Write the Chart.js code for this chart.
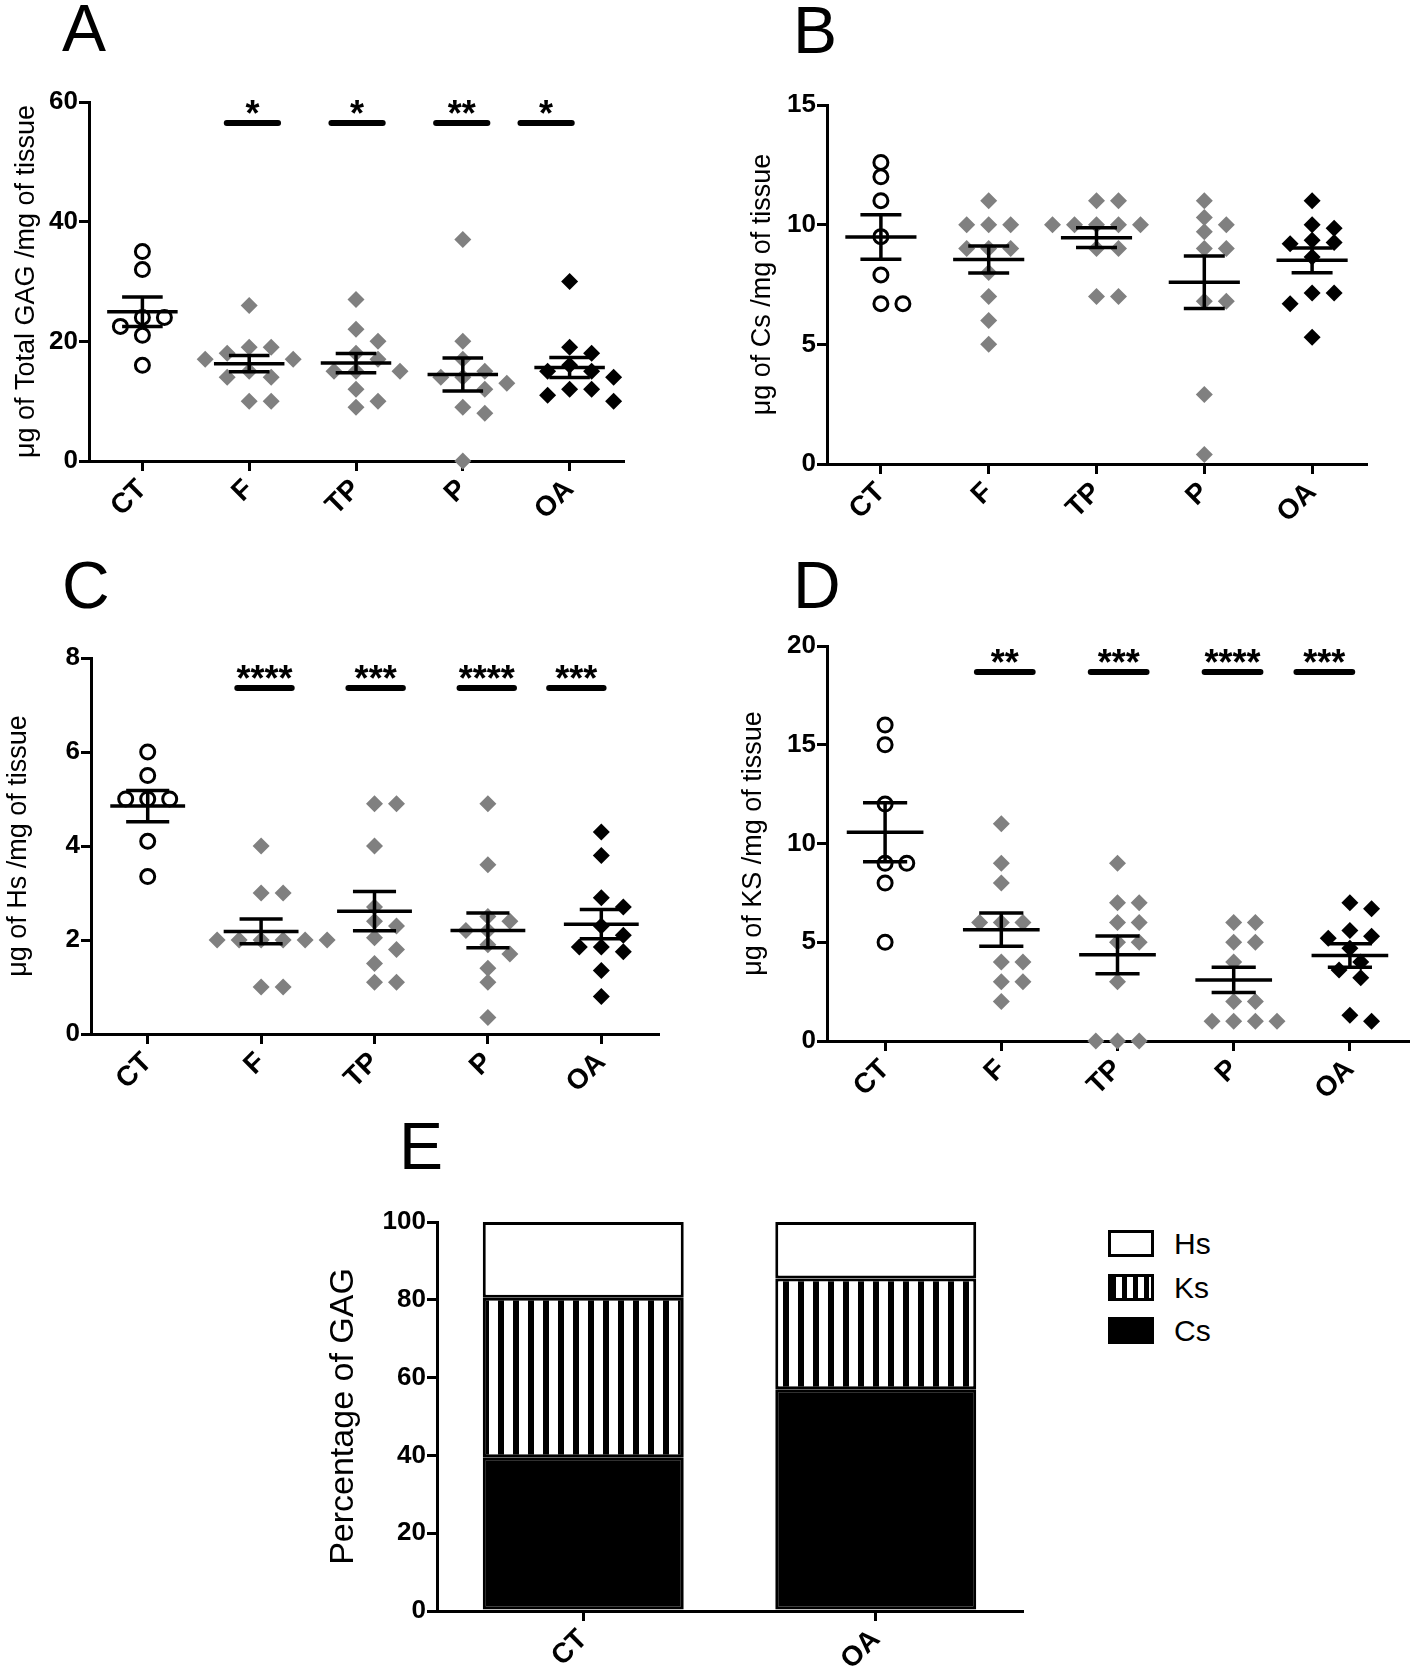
<!DOCTYPE html>
<html>
<head>
<meta charset="utf-8">
<script src="https://cdn.jsdelivr.net/npm/chart.js@4.4.1/dist/chart.umd.min.js"></script>
<style>
  html, body { margin: 0; padding: 0; background: #fff; }
  #fig { position: relative; width: 1418px; height: 1677px; overflow: hidden; font-family: 'Liberation Sans', Arial, sans-serif; color: #000; }
  canvas { position: absolute; }
  .letter { position: absolute; font-size: 66px; line-height: 1; }
  .sw { position: absolute; left: 1108px; width: 40px; height: 21px; border: 3px solid #000; background: #fff; }
  .lt { position: absolute; left: 1174px; font-size: 30px; line-height: 27px; }
</style>
</head>
<body>
<div id="fig">
  <div class="letter" style="left:62px;top:-5px">A</div>
  <div class="letter" style="left:793px;top:-3px">B</div>
  <div class="letter" style="left:62px;top:552px">C</div>
  <div class="letter" style="left:793px;top:552px">D</div>
  <div class="letter" style="left:399px;top:1113px">E</div>

  <canvas id="chartA"></canvas>
  <canvas id="chartB"></canvas>
  <canvas id="chartC"></canvas>
  <canvas id="chartD"></canvas>
  <canvas id="chartE"></canvas>

  <div class="sw" style="top:1230px"></div><div class="lt" style="top:1230px">Hs</div>
  <div class="sw" style="top:1274px;background:repeating-linear-gradient(90deg,#000 0 5px,#fff 5px 11px)"></div><div class="lt" style="top:1274px">Ks</div>
  <div class="sw" style="top:1317px;background:#000"></div><div class="lt" style="top:1317px">Cs</div>
</div>
<script>
'use strict';

const groups = ['CT', 'F', 'TP', 'P', 'OA'];

// A: total GAG (µg / mg tissue)
const gagCT = [35, 32, 24, 24, 22.5, 21, 16];
const gagF  = [26, 19, 19, 18, 17, 17, 15, 14, 14, 10, 10];
const gagTP = [27, 22, 20, 18, 17, 15, 15, 15, 12, 10, 9];
const gagP  = [37, 20, 17, 15, 14, 14, 13, 12, 9, 8, 0];
const gagOA = [30, 19, 18, 16, 15, 15, 14, 12, 12, 11, 10];
const gagStars = ['', '*', '*', '**', '*'];
const gagTicks = [0, 20, 40, 60];

// B: Cs
const csCT = [12.6, 12.0, 11.0, 9.5, 7.9, 6.7, 6.7];
const csF  = [11, 10, 10, 10, 9, 9, 9, 8, 7, 6, 5];
const csTP = [11, 11, 10, 10, 10, 10, 10, 9, 9, 7, 7];
const csP  = [11, 10.3, 10, 9.7, 9, 9, 6.8, 6.8, 2.9, 0.4];
const csOA = [11, 10, 9.85, 9.35, 9.25, 9.2, 8.65, 7.15, 7.15, 6.7, 5.3];
const csTicks = [0, 5, 10, 15];

// C: Hs
const hsCT = [6.0, 5.5, 5.0, 5.0, 5.0, 4.1, 3.35];
const hsF  = [4, 3, 3, 2, 2, 2, 2, 2, 2, 1, 1];
const hsTP = [4.9, 4.9, 4.0, 2.7, 2.4, 2.3, 2.05, 1.8, 1.5, 1.1, 1.1];
const hsP  = [4.9, 3.6, 2.5, 2.4, 2.2, 2.2, 1.9, 1.7, 1.4, 1.1, 0.35];
const hsOA = [4.3, 3.8, 2.9, 2.7, 2.3, 2.1, 1.85, 1.85, 1.75, 1.35, 0.8];
const hsStars = ['', '****', '***', '****', '***'];
const hsTicks = [0, 2, 4, 6, 8];

// D: KS
const ksCT = [16, 15, 12, 9, 9, 8, 5];
const ksF  = [11, 9, 8, 6, 6, 6, 4, 4, 3, 3, 2];
const ksTP = [9, 7, 7, 6, 6, 5, 5, 3, 0, 0, 0];
const ksP  = [6, 6, 5, 5, 4, 2, 2, 1, 1, 1, 1];
const ksOA = [7, 6.7, 5.6, 5.3, 5.2, 4.7, 4.0, 3.6, 3.2, 1.3, 1.0];
const ksStars = ['', '**', '***', '****', '***'];
const ksTicks = [0, 5, 10, 15, 20];

// E: composition (%)
const pctGroups = ['CT', 'OA'];
const pctCs = [39.5, 57];
const pctKs = [41, 28.5];
const pctHs = [19.5, 14.5];
const pctTicks = [0, 20, 40, 60, 80, 100];

const GRAY = '#808080';
const TICK_FONT = { family: "'Liberation Sans Narrow', 'Liberation Sans', Arial, sans-serif", size: 26, weight: 'bold' };
const CAT_FONT = { family: "'Liberation Sans', Arial, sans-serif", size: 28, weight: 'bold' };
const axisLine = { display: true, width: 3, color: '#000' };
const tickMarks = { drawOnChartArea: false, drawTicks: true, tickLength: 10, lineWidth: 3, color: '#000', offset: false };

// GraphPad-like scatter: spread points sideways so they do not overlap
function swarm(values, idx, pxY, pxX) {
  const step = 11, rx = 22, ry = 14;
  const order = values.map((v, k) => k).sort((a, b) => values[b] - values[a]);
  const placed = [];
  const out = new Array(values.length);
  order.forEach(k => {
    const py = values[k] * pxY;
    for (let n = 0; n < 60; n++) {
      const dx = n === 0 ? 0 : (n % 2 ? 1 : -1) * Math.ceil(n / 2) * step;
      if (placed.every(p => ((p.x - dx) / rx) ** 2 + ((p.y - py) / ry) ** 2 >= 1)) {
        placed.push({ x: dx, y: py });
        out[k] = { x: idx + dx / pxX, y: values[k] };
        break;
      }
    }
  });
  return out;
}

function meanSem(lists) {
  return {
    id: 'meanSem',
    afterDatasetsDraw(chart) {
      const { ctx, scales: { x, y } } = chart;
      ctx.save();
      ctx.strokeStyle = '#000';
      ctx.lineWidth = 3.5;
      lists.forEach((vals, i) => {
        const n = vals.length;
        const m = vals.reduce((a, b) => a + b, 0) / n;
        const sd = Math.sqrt(vals.reduce((a, v) => a + (v - m) ** 2, 0) / (n - 1));
        const se = sd / Math.sqrt(n);
        const hline = (v, hw) => {
          ctx.beginPath();
          ctx.moveTo(x.getPixelForValue(i - hw), y.getPixelForValue(v));
          ctx.lineTo(x.getPixelForValue(i + hw), y.getPixelForValue(v));
          ctx.stroke();
        };
        hline(m, 0.33);
        hline(m + se, 0.19);
        hline(m - se, 0.19);
        ctx.beginPath();
        ctx.moveTo(x.getPixelForValue(i), y.getPixelForValue(m + se));
        ctx.lineTo(x.getPixelForValue(i), y.getPixelForValue(m - se));
        ctx.stroke();
      });
      ctx.restore();
    }
  };
}

function sigBars(stars, level) {
  const shift = [0, 0.03, 0.01, -0.01, -0.22];
  return {
    id: 'sigBars',
    afterDatasetsDraw(chart) {
      if (!stars) return;
      const { ctx, scales: { x, y } } = chart;
      const py = y.getPixelForValue(level);
      ctx.save();
      ctx.strokeStyle = '#000';
      ctx.fillStyle = '#000';
      ctx.lineWidth = 6;
      ctx.lineCap = 'round';
      ctx.font = "bold 36px 'Liberation Sans', Arial, sans-serif";
      ctx.textAlign = 'center';
      ctx.textBaseline = 'alphabetic';
      stars.forEach((s, i) => {
        if (!s) return;
        const c = i + shift[i];
        ctx.beginPath();
        ctx.moveTo(x.getPixelForValue(c - 0.24), py);
        ctx.lineTo(x.getPixelForValue(c + 0.24), py);
        ctx.stroke();
        ctx.fillText(s, x.getPixelForValue(c), py + 3);
      });
      ctx.restore();
    }
  };
}

function place(canvas, left, top, width, height) {
  canvas.width = width;
  canvas.height = height;
  canvas.style.left = left + 'px';
  canvas.style.top = top + 'px';
  canvas.style.width = width + 'px';
  canvas.style.height = height + 'px';
}

function scatterPanel(p) {
  const padTop = 40, padRight = p.padRight, xAxisH = 80;
  const yAxisW = p.l - p.canvasLeft;
  const canvas = document.getElementById(p.id);
  const top = p.t - padTop;
  place(canvas, p.canvasLeft, top, p.r + padRight - p.canvasLeft, p.b + xAxisH - top);

  const yMax = p.yTicks[p.yTicks.length - 1];
  const pxY = (p.b - p.t) / yMax;
  const pxX = (p.r - p.l) / groups.length;

  const datasets = p.lists.map((vals, i) => ({
    data: swarm(vals, i, pxY, pxX),
    pointStyle: i === 0 ? 'circle' : 'rectRot',
    pointRadius: i === 0 ? 7 : 8.5,
    borderWidth: i === 0 ? 3 : 0,
    borderColor: '#000',
    backgroundColor: i === 0 ? 'rgba(0,0,0,0)' : (i === 4 ? '#000' : GRAY),
    clip: false
  }));

  new Chart(canvas, {
    type: 'scatter',
    data: { datasets },
    options: {
      responsive: false,
      animation: false,
      events: [],
      layout: { padding: { top: padTop, right: padRight, bottom: 0, left: 0 } },
      plugins: { legend: { display: false }, tooltip: { enabled: false } },
      scales: {
        x: {
          type: 'linear', min: -0.5, max: 4.5,
          afterBuildTicks: s => { s.ticks = groups.map((g, i) => ({ value: i })); },
          afterFit: s => { s.height = xAxisH; },
          grid: tickMarks,
          border: axisLine,
          ticks: { callback: v => groups[v], minRotation: 45, maxRotation: 45, autoSkip: false, color: '#000', font: CAT_FONT, padding: 2 }
        },
        y: {
          min: 0, max: yMax,
          afterBuildTicks: s => { s.ticks = p.yTicks.map(v => ({ value: v })); },
          afterFit: s => { s.width = yAxisW; },
          grid: tickMarks,
          border: axisLine,
          ticks: { color: '#000', font: TICK_FONT, padding: 1 },
          title: { display: true, text: p.title, color: '#000', font: { family: "'Liberation Sans', Arial, sans-serif", size: 27 }, padding: { top: p.titlePad, bottom: 0 } }
        }
      }
    },
    plugins: [meanSem(p.lists), sigBars(p.stars, p.sigLevel)]
  });
}

scatterPanel({ id: 'chartA', canvasLeft: 0, titlePad: 10, l: 89, r: 623, t: 102, b: 461, padRight: 15,
  yTicks: gagTicks, title: 'μg of Total GAG /mg of tissue',
  lists: [gagCT, gagF, gagTP, gagP, gagOA], stars: gagStars, sigLevel: 56.5 });

scatterPanel({ id: 'chartB', canvasLeft: 740, titlePad: 6, l: 827, r: 1366, t: 105, b: 464, padRight: 15,
  yTicks: csTicks, title: 'μg of Cs /mg of tissue',
  lists: [csCT, csF, csTP, csP, csOA], stars: null, sigLevel: 0 });

scatterPanel({ id: 'chartC', canvasLeft: 0, titlePad: 2, l: 91, r: 658, t: 658, b: 1034, padRight: 15,
  yTicks: hsTicks, title: 'μg of Hs /mg of tissue',
  lists: [hsCT, hsF, hsTP, hsP, hsOA], stars: hsStars, sigLevel: 7.36 });

scatterPanel({ id: 'chartD', canvasLeft: 735, titlePad: 2, l: 827, r: 1417, t: 646, b: 1041, padRight: 1,
  yTicks: ksTicks, title: 'μg of KS /mg of tissue',
  lists: [ksCT, ksF, ksTP, ksP, ksOA], stars: ksStars, sigLevel: 18.68 });

// E: stacked composition bars
(function () {
  const l = 437, r = 1022, t = 1222, b = 1611, canvasLeft = 318, padTop = 30, padRight = 10, xAxisH = 66;
  const canvas = document.getElementById('chartE');
  place(canvas, canvasLeft, t - padTop, r + padRight - canvasLeft, b + xAxisH - (t - padTop));

  const pc = document.createElement('canvas');
  pc.width = 15; pc.height = 4;
  const pctx = pc.getContext('2d');
  pctx.fillStyle = '#fff'; pctx.fillRect(0, 0, 15, 4);
  pctx.fillStyle = '#000'; pctx.fillRect(0, 0, 6, 4);
  const stripes = canvas.getContext('2d').createPattern(pc, 'repeat');

  const seg = (label, data, fill) => ({
    label, data, backgroundColor: fill, borderColor: '#000', borderWidth: 3, borderSkipped: false,
    barPercentage: 0.687, categoryPercentage: 1
  });

  new Chart(canvas, {
    type: 'bar',
    data: {
      labels: pctGroups,
      datasets: [seg('Cs', pctCs, '#000'), seg('Ks', pctKs, stripes), seg('Hs', pctHs, '#fff')]
    },
    options: {
      responsive: false,
      animation: false,
      events: [],
      layout: { padding: { top: padTop, right: padRight, bottom: 0, left: 0 } },
      plugins: { legend: { display: false }, tooltip: { enabled: false } },
      scales: {
        x: {
          stacked: true,
          afterFit: s => { s.height = xAxisH; },
          grid: tickMarks,
          border: axisLine,
          ticks: { minRotation: 45, maxRotation: 45, color: '#000', font: CAT_FONT, padding: 2 }
        },
        y: {
          stacked: true, min: 0, max: 100,
          afterBuildTicks: s => { s.ticks = pctTicks.map(v => ({ value: v })); },
          afterFit: s => { s.width = l - canvasLeft; },
          grid: tickMarks,
          border: axisLine,
          ticks: { color: '#000', font: TICK_FONT, padding: 1 },
          title: { display: true, text: 'Percentage of GAG', color: '#000', font: { family: "'Liberation Sans', Arial, sans-serif", size: 34 }, padding: { top: 5, bottom: 0 } }
        }
      }
    }
  });
})();
</script>
</body>
</html>
